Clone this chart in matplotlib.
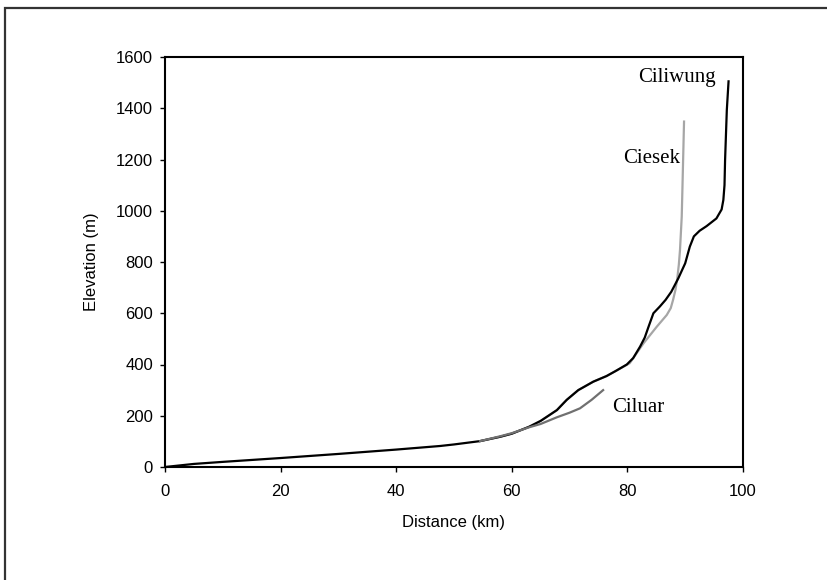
import matplotlib
matplotlib.use("Agg")
import matplotlib.pyplot as plt
from matplotlib.patches import Rectangle

# Ciliwung (black)
ciliwung_km = [0, 5, 10, 20, 30, 40, 47.6, 50, 54.5, 58, 60, 63, 65, 67.8, 69.5, 71.5,
               74.1, 76.4, 78, 79.9, 81, 82.2, 83, 83.7, 84.5, 85.6, 86.6, 87.6, 88.8,
               90, 90.8, 91.5, 92.5, 93.7, 95.4, 96.3, 96.6, 96.8, 96.9, 97.2, 97.5]
ciliwung_m = [0, 12, 20, 35, 51, 68, 82, 88, 101, 118, 130, 157, 180, 222, 262, 300,
              333, 355, 375, 400, 425, 470, 505, 550, 600, 626, 652, 684, 736,
              795, 860, 900, 922, 940, 970, 1005, 1042, 1100, 1198, 1393, 1505]

# Ciesek (light grey)
ciesek_km = [54.5, 58, 60, 63, 65, 67.8, 69.5, 71.5, 74.1, 76.4, 78, 80.4, 82.8, 85.1,
             86.8, 87.5, 87.9, 88.3, 88.6, 88.9, 89.1, 89.4, 89.5, 89.8]
ciesek_m = [101, 118, 130, 157, 180, 222, 262, 300, 333, 355, 375, 405, 483, 548,
            593, 620, 652, 690, 730, 790, 847, 977, 1068, 1348]

# Ciluar (dark grey)
ciluar_km = [54.5, 58, 60, 63, 65, 67.8, 70, 71.8, 73.8, 75.8]
ciluar_m = [101, 120, 132, 155, 168, 194, 212, 229, 262, 300]

x_ticks = [0, 20, 40, 60, 80, 100]
y_ticks = [0, 200, 400, 600, 800, 1000, 1200, 1400, 1600]

plt.rcParams['font.family'] = ['Liberation Sans', 'DejaVu Sans']

fig = plt.figure(figsize=(8.27, 5.8), dpi=100)
fig.patches.append(Rectangle((4.5/827, -0.1), 1.2, 1.1 - 7.5/580,
                             transform=fig.transFigure, fill=False,
                             edgecolor='#333333', linewidth=1.6, zorder=0))

ax = fig.add_axes([165/827, 1 - 467/580, (743-165)/827, (467-57)/580])

ax.plot(ciesek_km, ciesek_m, color='#a6a6a6', lw=1.6, zorder=2)
ax.plot(ciliwung_km, ciliwung_m, color='black', lw=1.6, zorder=3)
ax.plot(ciluar_km, ciluar_m, color='#707070', lw=1.6, zorder=4)

ax.set_xlim(0, 100)
ax.set_ylim(0, 1600)
ax.set_xticks(x_ticks)
ax.set_yticks(y_ticks)
ax.tick_params(axis='both', direction='out', length=3.6, width=1.0, labelsize=12,
               colors='black')
ax.tick_params(axis='y', pad=5)
ax.tick_params(axis='x', pad=9)
for s in ax.spines.values():
    s.set_linewidth(1.5)
    s.set_color('black')

ax.set_xlabel('Distance (km)', fontsize=12, labelpad=11)
ax.set_ylabel('Elevation (m)', fontsize=12, labelpad=12)

serif = ['Liberation Serif', 'DejaVu Serif']
ax.text(95.3, 1502, 'Ciliwung', family=serif, fontsize=15, ha='right', va='baseline')
ax.text(89.1, 1186, 'Ciesek', family=serif, fontsize=15, ha='right', va='baseline')
ax.text(77.3, 216, 'Ciluar', family=serif, fontsize=15, ha='left', va='baseline')

fig.savefig('out.png', dpi=100)
